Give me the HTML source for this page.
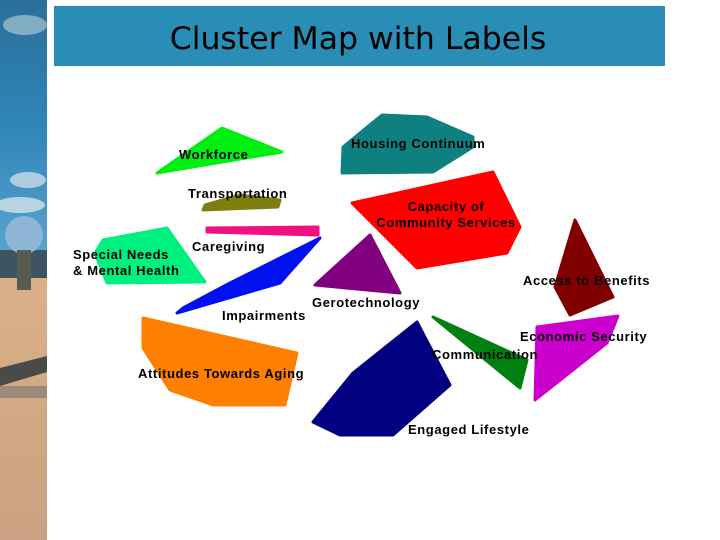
<!DOCTYPE html>
<html><head><meta charset="utf-8"><style>
html,body{margin:0;padding:0;background:#fff;}
svg{display:block}
text{font-family:"Liberation Sans",Arial,sans-serif;font-weight:bold;font-size:13px;fill:#000;letter-spacing:0.6px}
</style></head><body>
<svg width="720" height="540" viewBox="0 0 720 540">
<defs>
<linearGradient id="sky" x1="0" y1="0" x2="0" y2="1">
<stop offset="0" stop-color="#2a6f9a"/><stop offset="0.5" stop-color="#2f86b8"/><stop offset="1" stop-color="#5aa3cf"/>
</linearGradient>
<linearGradient id="sand" x1="0" y1="0" x2="0" y2="1">
<stop offset="0" stop-color="#d9b088"/><stop offset="1" stop-color="#caa283"/>
</linearGradient>
</defs>
<rect x="0" y="0" width="47" height="255" fill="url(#sky)"/>
<ellipse cx="25" cy="25" rx="22" ry="10" fill="#a9c4d4" opacity="0.7"/>
<ellipse cx="28" cy="180" rx="18" ry="8" fill="#c8dbe6" opacity="0.8"/>
<ellipse cx="20" cy="205" rx="25" ry="8" fill="#d5e3ea" opacity="0.8"/>
<rect x="0" y="250" width="47" height="30" fill="#3d5460"/>
<rect x="0" y="278" width="47" height="262" fill="url(#sand)"/>
<polygon points="0,368 47,356 47,372 0,386" fill="#4a4a48"/>
<rect x="0" y="386" width="47" height="12" fill="#9c8a7a"/>
<circle cx="24" cy="235" r="19" fill="#8fb6d6"/>
<rect x="17" y="250" width="14" height="40" fill="#5a5a55"/>
<rect x="47" y="0" width="673" height="540" fill="#fff"/>
<rect x="54" y="6" width="611" height="60" fill="#2a8db5"/>
<text x="358" y="49" text-anchor="middle" style="font-weight:normal;font-size:31.5px;letter-spacing:0;font-family:'DejaVu Sans','Liberation Sans',sans-serif">Cluster Map with Labels</text>
<g stroke-linejoin="round" stroke-width="3">
<polygon points="222,128 282,152 157,173" fill="#00ee11" stroke="#00ee11"/>
<polygon points="205,205 240,195 280,200 278,207 203,210" fill="#7f7f10" stroke="#7f7f10"/>
<polygon points="207,228 318,227 318,235 207,232" fill="#f0107f" stroke="#f0107f"/>
<polygon points="103,240 167,228 205,282 107,283 95,253" fill="#00f080" stroke="#00f080"/>
<polygon points="320,238 280,283 177,313 183,308 230,283" fill="#0010ee" stroke="#0010ee"/>
<polygon points="143,318 297,353 285,405 213,405 170,390 143,348" fill="#ff8000" stroke="#ff8000"/>
<polygon points="382,115 427,117 473,137 473,147 433,172 342,173 343,147 360,133" fill="#0e8080" stroke="#0e8080"/>
<polygon points="352,203 493,172 520,227 507,253 417,268" fill="#ff0000" stroke="#ff0000"/>
<polygon points="370,235 400,293 315,285" fill="#800080" stroke="#800080"/>
<polygon points="575,220 613,297 570,315 555,287" fill="#800000" stroke="#800000"/>
<polygon points="537,327 618,316 607,343 535,400" fill="#cc00cc" stroke="#cc00cc"/>
<polygon points="433,317 527,360 520,388" fill="#008010" stroke="#008010"/>
<polygon points="417,322 450,385 393,435 340,435 313,422 353,373" fill="#000080" stroke="#000080"/>
</g>
<text x="179" y="159">Workforce</text>
<text x="188" y="198">Transportation</text>
<text x="192" y="251">Caregiving</text>
<text x="73" y="259">Special Needs</text>
<text x="73" y="275">&amp; Mental Health</text>
<text x="222" y="320">Impairments</text>
<text x="138" y="378">Attitudes Towards Aging</text>
<text x="351" y="148">Housing Continuum</text>
<text x="446" y="211" text-anchor="middle">Capacity of</text>
<text x="446" y="227" text-anchor="middle">Community Services</text>
<text x="312" y="307">Gerotechnology</text>
<text x="523" y="285">Access to Benefits</text>
<text x="520" y="341">Economic Security</text>
<text x="432" y="359">Communication</text>
<text x="408" y="434">Engaged Lifestyle</text>
</svg>
</body></html>
